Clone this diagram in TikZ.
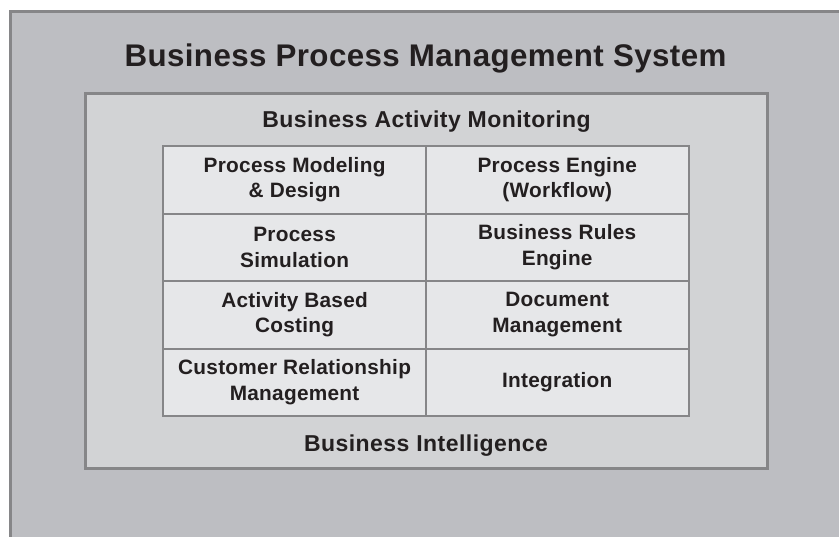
\documentclass[tikz,border=0pt]{standalone}
\usepackage{fontspec}
\setmainfont{Liberation Sans}
\newfontfamily\titlefont[LetterSpace=1.3]{Liberation Sans}
\newfontfamily\headfont[LetterSpace=2.0]{Liberation Sans}
\newfontfamily\cellfont[LetterSpace=1.3]{Liberation Sans}
\usetikzlibrary{positioning}
\definecolor{outergray}{RGB}{189,190,194}
\definecolor{innergray}{RGB}{210,211,213}
\definecolor{cellgray}{RGB}{230,231,233}
\definecolor{edgegray}{RGB}{134,134,136}
\definecolor{inkblack}{RGB}{35,31,32}

\begin{document}
\begin{tikzpicture}[x=1pt, y=-1pt,
    node distance=0pt,
    frame/.style={rectangle, draw=edgegray, line width=3pt, inner sep=0pt, outer sep=0pt},
    cell/.style={rectangle, draw=edgegray, fill=cellgray, line width=2pt, minimum width=262.6pt, minimum height=67.5pt, inner sep=0pt, outer sep=0pt, align=center, text=inkblack, font=\cellfont\bfseries\fontsize{20.8}{25.6}\selectfont},
    heading/.style={anchor=base, text=inkblack, inner sep=0pt, font=\headfont\bfseries\fontsize{23}{27}\selectfont}
]
    \useasboundingbox (0,0) rectangle (839,537);
    \clip (0,0) rectangle (839,537);
    \fill[white] (0,0) rectangle (839,537);

    % outer system frame runs off the page at right and bottom
    \node[frame, fill=outergray, anchor=north west, minimum width=860pt, minimum height=560pt] (system) at (10.5,11.3) {};
    \node[frame, fill=innergray, minimum width=682.3pt, minimum height=374.7pt] (monitoring) at (426.15,281.35) {};

    \node[heading, font=\titlefont\bfseries\fontsize{31.3}{37}\selectfont] (title) at (425.5,67) {Business Process Management System};
    \node[heading] (bam) at (426.5,127.3) {Business Activity Monitoring};
    \node[heading] (bi) at (426,451.7) {Business Intelligence};

    % grid of components
    \node[cell] (modeling) at (294.6,179.8) {Process Modeling\\\& Design};
    \node[cell, right=of modeling] (engine) {Process Engine\\(Workflow)};
    \node[cell, below=of modeling] (simulation) {Process\\Simulation};
    \node[cell, below=of engine] (rules) {Business Rules\\Engine};
    \node[cell, below=of simulation] (costing) {Activity Based\\Costing};
    \node[cell, below=of rules] (documents) {Document\\Management};
    \node[cell, below=of costing] (crm) {Customer Relationship\\Management};
    \node[cell, below=of documents] (integration) {Integration};
\end{tikzpicture}
\end{document}
